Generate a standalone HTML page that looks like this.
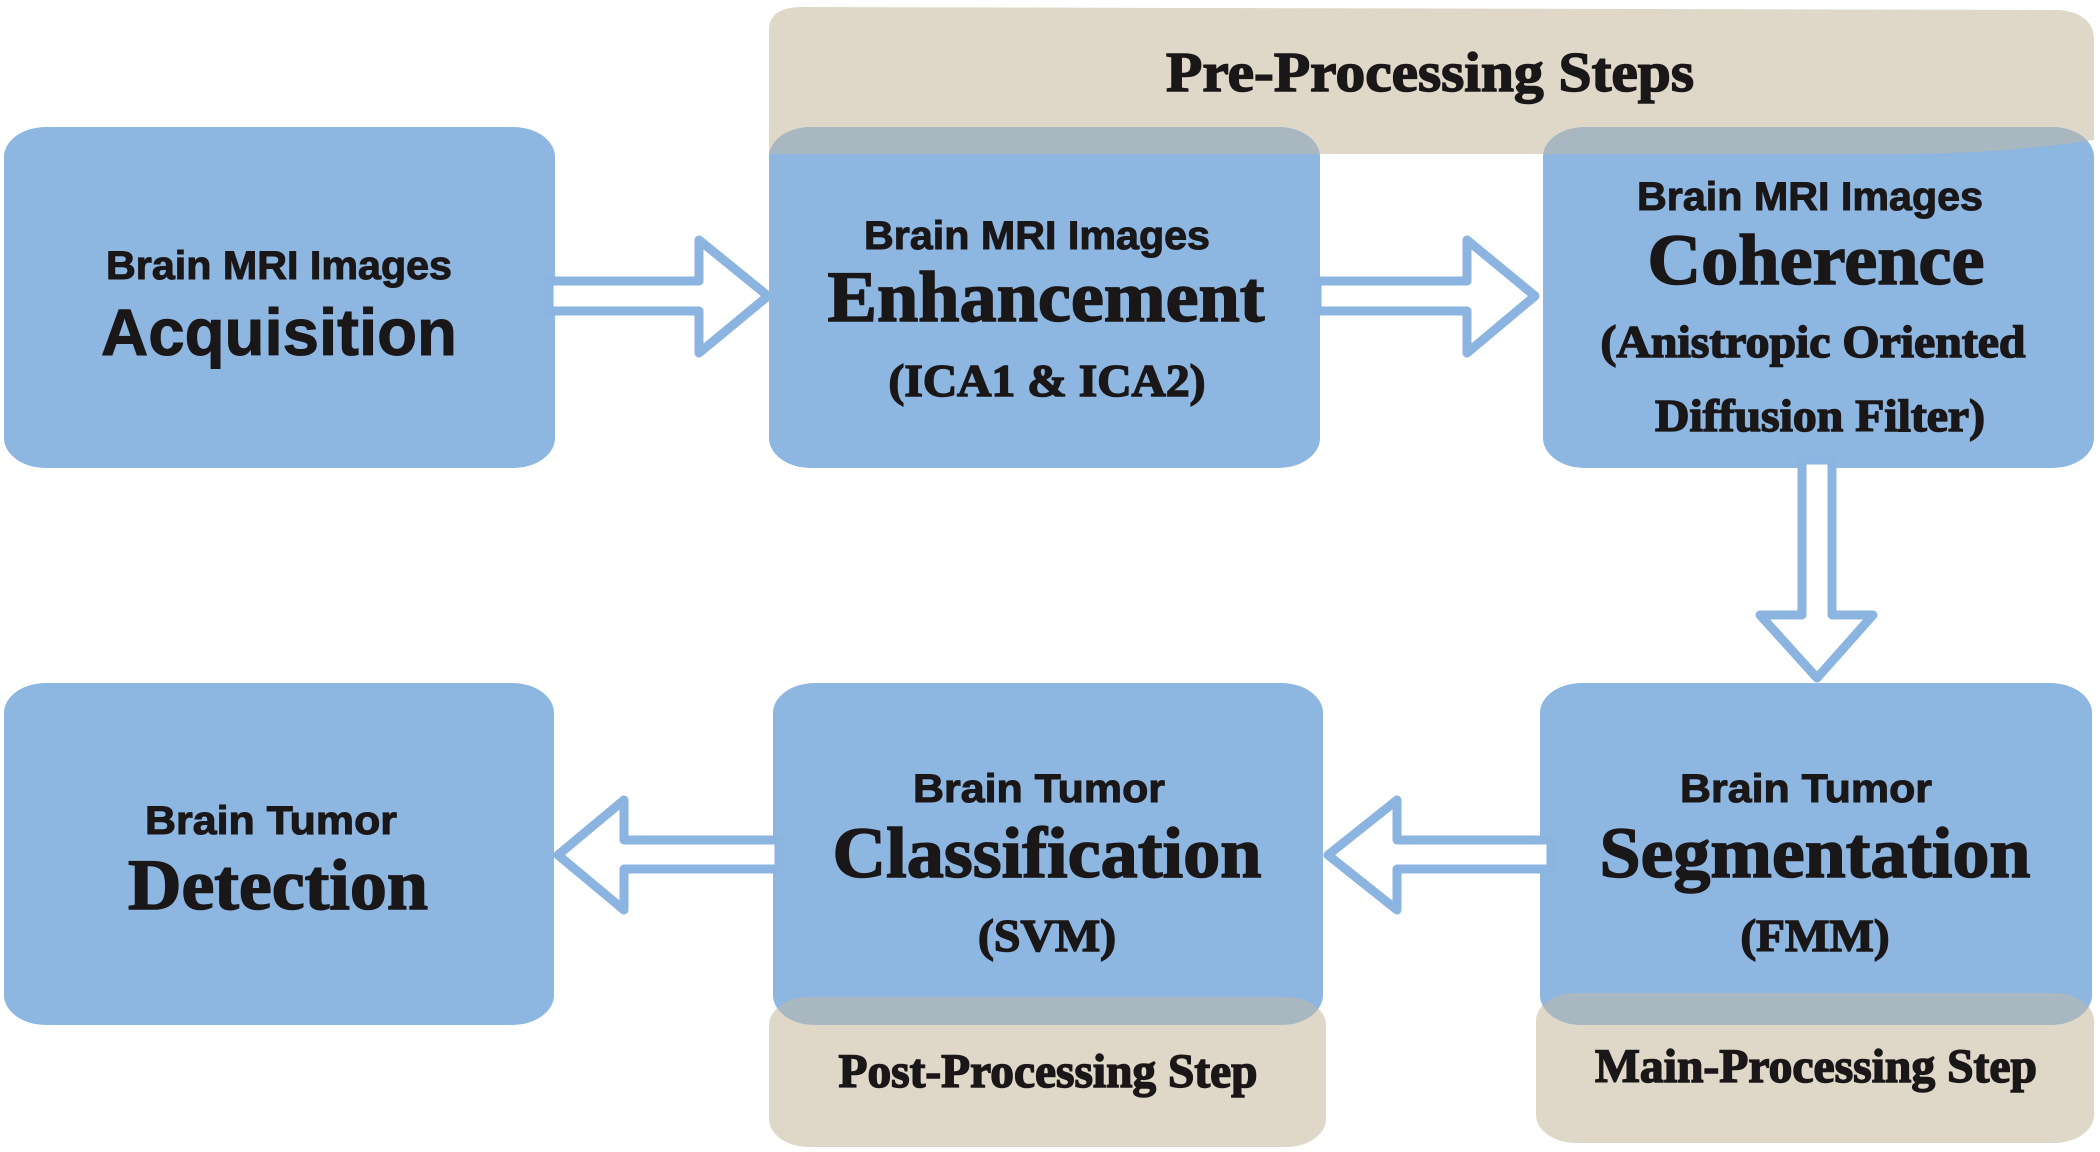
<!DOCTYPE html>
<html><head><meta charset="utf-8"><style>
html,body{margin:0;padding:0;background:#fff;}
svg{display:block;}
.s{font-family:"Liberation Sans",sans-serif;font-weight:bold;fill:#1a1718;stroke:#1a1718;stroke-width:1;}
.r{font-family:"Liberation Serif",serif;font-weight:bold;fill:#1a1718;stroke:#1a1718;stroke-width:1.5;}
</style></head><body>
<svg width="2100" height="1152" viewBox="0 0 2100 1152" xmlns="http://www.w3.org/2000/svg">
<defs>
<clipPath id="cEnh"><rect x="769" y="127" width="551" height="341" rx="42" ry="30"/></clipPath>
<clipPath id="cCoh"><rect x="1543" y="127" width="551" height="341" rx="42" ry="30"/></clipPath>
<clipPath id="cCls"><rect x="773" y="683" width="550" height="342" rx="42" ry="30"/></clipPath>
<clipPath id="cSeg"><rect x="1540" y="683" width="552" height="342" rx="42" ry="30"/></clipPath>
</defs>
<g fill="#dfd8c8">
<path d="M769,154 L769,30 Q769,8 800,7 L2060,10 Q2094,14 2094,40 L2094,140 Q2000,154 1900,154 Z"/>
<rect x="769" y="997" width="557" height="150" rx="40" ry="28"/>
<rect x="1536" y="993" width="558" height="150" rx="40" ry="28"/>
</g>
<g fill="#8db6e1">
<rect x="4" y="127" width="551" height="341" rx="42" ry="30"/>
<rect x="769" y="127" width="551" height="341" rx="42" ry="30"/>
<rect x="1543" y="127" width="551" height="341" rx="42" ry="30"/>
<rect x="4" y="683" width="550" height="342" rx="42" ry="30"/>
<rect x="773" y="683" width="550" height="342" rx="42" ry="30"/>
<rect x="1540" y="683" width="552" height="342" rx="42" ry="30"/>
</g>
<g fill="#a9b7c0">
<g clip-path="url(#cEnh)"><path d="M769,154 L769,100 L1320,100 L1320,154 Z"/></g>
<g clip-path="url(#cCoh)"><path d="M1543,100 L2094,100 L2094,140 Q2000,154 1900,154 L1543,154 Z"/></g>
<g clip-path="url(#cCls)"><rect x="769" y="997" width="557" height="150" rx="40" ry="28"/></g>
<g clip-path="url(#cSeg)"><rect x="1536" y="993" width="558" height="150" rx="40" ry="28"/></g>
</g>
<g fill="#fff" stroke="#8bb4e0" stroke-width="9" stroke-linejoin="round">
<path d="M549,281 L699,281 L699,240 L768,296 L699,353 L699,311 L549,311 Z"/>
<path d="M1317,281 L1467,281 L1467,240 L1535,296 L1467,353 L1467,311 L1317,311 Z"/>
<path d="M1802,460 L1832,460 L1832,615 L1873,615 L1817,678 L1760,615 L1802,615 Z"/>
<path d="M779,840 L624,840 L624,800 L558,855 L624,910 L624,869 L779,869 Z"/>
<path d="M1551,840 L1397,840 L1397,800 L1328,855 L1397,910 L1397,869 L1551,869 Z"/>
</g>
<g text-anchor="middle">
<text class="r" x="1430" y="91" font-size="56" textLength="528" lengthAdjust="spacingAndGlyphs">Pre-Processing Steps</text>
<text class="s" x="279" y="279" font-size="40" textLength="346" lengthAdjust="spacingAndGlyphs">Brain MRI Images</text>
<text class="s" x="279" y="355" font-size="66" textLength="356" lengthAdjust="spacingAndGlyphs">Acquisition</text>
<text class="s" x="1037" y="249" font-size="40" textLength="346" lengthAdjust="spacingAndGlyphs">Brain MRI Images</text>
<text class="r" x="1046" y="321" font-size="72" textLength="437" lengthAdjust="spacingAndGlyphs">Enhancement</text>
<text class="r" x="1047" y="396" font-size="46" textLength="317" lengthAdjust="spacingAndGlyphs">(ICA1 &amp; ICA2)</text>
<text class="s" x="1810" y="210" font-size="40" textLength="346" lengthAdjust="spacingAndGlyphs">Brain MRI Images</text>
<text class="r" x="1816" y="284" font-size="72" textLength="337" lengthAdjust="spacingAndGlyphs">Coherence</text>
<text class="r" x="1813" y="357" font-size="46" textLength="425" lengthAdjust="spacingAndGlyphs">(Anistropic Oriented</text>
<text class="r" x="1820" y="431" font-size="46" textLength="330" lengthAdjust="spacingAndGlyphs">Diffusion Filter)</text>
<text class="s" x="271" y="834" font-size="40" textLength="252" lengthAdjust="spacingAndGlyphs">Brain Tumor</text>
<text class="r" x="278" y="909" font-size="72" textLength="300" lengthAdjust="spacingAndGlyphs">Detection</text>
<text class="s" x="1039" y="802" font-size="40" textLength="252" lengthAdjust="spacingAndGlyphs">Brain Tumor</text>
<text class="r" x="1047" y="877" font-size="72" textLength="429" lengthAdjust="spacingAndGlyphs">Classification</text>
<text class="r" x="1047" y="951" font-size="46" textLength="138" lengthAdjust="spacingAndGlyphs">(SVM)</text>
<text class="s" x="1806" y="802" font-size="40" textLength="252" lengthAdjust="spacingAndGlyphs">Brain Tumor</text>
<text class="r" x="1815" y="877" font-size="72" textLength="431" lengthAdjust="spacingAndGlyphs">Segmentation</text>
<text class="r" x="1815" y="951" font-size="46" textLength="149" lengthAdjust="spacingAndGlyphs">(FMM)</text>
<text class="r" x="1048" y="1087" font-size="48" textLength="419" lengthAdjust="spacingAndGlyphs">Post-Processing Step</text>
<text class="r" x="1816" y="1082" font-size="48" textLength="442" lengthAdjust="spacingAndGlyphs">Main-Processing Step</text>
</g>
</svg>
</body></html>
